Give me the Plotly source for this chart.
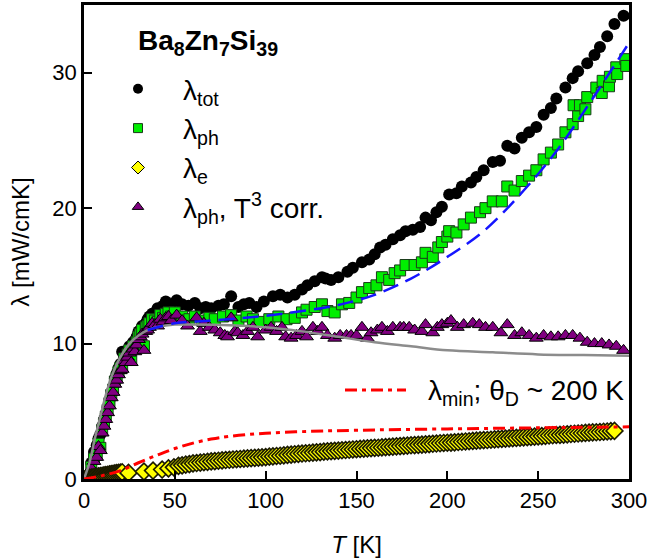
import plotly.graph_objects as go

# ---------------- data ----------------
T_low = [4, 5.5, 7, 8, 9, 10, 11, 12, 13, 14, 15, 16, 17, 18, 19, 20, 21, 22, 23, 24,
         25, 26, 27, 28, 29, 30, 31, 32, 33, 34, 35, 36, 37.5, 39, 40.5, 42, 43.5, 45, 46.5, 48]

T_tot = T_low + [51, 54, 57.5, 61, 64, 67, 70, 74, 77, 81, 85, 88, 91, 95, 99, 104, 108, 112, 116, 120,
                 123, 127, 131, 133, 136, 140, 145, 148, 153, 157, 160, 163, 166, 170, 174, 177, 181, 185, 188, 191,
                 194, 197, 201, 205, 208, 213, 216, 220, 225, 229, 233, 237, 241, 245, 249, 253, 257, 260, 265, 269,
                 272, 277, 281, 284, 288, 292, 297]
lam_tot = [1.2, 2.0, 2.5, 3.0, 3.3, 3.9, 4.4, 4.8, 5.3, 5.8, 6.4, 6.8, 7.4, 7.8, 8.2, 8.5, 9.4, 9.2, 9.3, 9.5,
           9.8, 9.6, 10.1, 10.2, 10.5, 10.9, 11.0, 11.3, 11.1, 11.5, 11.8, 12.0, 12.2, 12.3, 12.6, 12.5, 12.8, 13.1, 12.8, 12.9,
           13.2, 12.9, 12.8, 13.0, 12.6, 12.7, 12.6, 12.8, 12.9, 13.5, 12.7, 12.9, 13.0, 12.7, 13.1, 13.5, 13.6, 13.4, 13.6, 14.0,
           14.3, 14.6, 14.9, 14.8, 14.7, 14.9, 15.3, 15.6, 16.0, 16.2, 16.6, 17.1, 17.3, 17.7, 18.0, 18.3, 18.4, 18.6, 19.3, 19.1,
           19.7, 20.1, 21.0, 21.1, 21.6, 21.9, 22.3, 22.8, 23.4, 23.5, 24.6, 24.4, 25.2, 25.6, 26.0, 26.9, 27.4, 28.1, 28.9, 29.6,
           30.1, 30.7, 31.3, 31.9, 32.7, 33.6, 34.2]

T_ph = T_low + [50, 54, 58, 61, 65, 69, 72, 76.5, 81, 85, 89.5, 93, 96.7, 102, 107, 111.5, 116, 120, 122.5, 127,
                131, 134, 138, 142, 146, 150, 153, 157, 161, 164, 168, 171, 174, 177, 182, 186, 188, 192, 195, 197,
                200, 201, 205, 209, 213, 218, 221, 225, 230, 233, 237, 241, 245, 249, 253, 257, 261, 265, 269, 272,
                269.5, 273, 276, 277, 282, 285, 285.5, 289, 289.5, 293, 293.5, 298, 298.5]
lam_ph = [0.9, 1.5, 1.8, 2.6, 2.3, 3.6, 4.1, 4.6, 5.1, 5.6, 6.2, 6.6, 7.2, 7.5, 7.9, 8.2, 8.3, 8.9, 8.8, 9.2,
          9.5, 8.9, 9.8, 9.7, 10.1, 10.5, 10.7, 11.0, 9.8, 11.2, 11.3, 11.5, 11.8, 11.7, 11.6, 12.1, 11.9, 12.2, 12.3, 12.0,
          12.3, 12.0, 11.8, 12.0, 11.7, 11.9, 11.8, 12.0, 12.1, 11.7, 12.0, 11.8, 11.6, 11.8, 12.0, 11.8, 11.9, 12.3, 12.5, 12.7,
          12.9, 12.4, 12.3, 12.9, 13.0, 13.4, 13.8, 14.1, 14.3, 14.9, 14.7, 15.2, 15.4, 15.8, 15.8, 16.0, 16.7, 16.4, 17.1, 17.5,
          17.9, 18.3, 18.2, 18.8, 19.3, 19.7, 20.0, 20.5, 20.5, 21.6, 21.3, 22.0, 22.4, 22.8, 23.6, 24.1, 24.7, 25.6, 26.2, 26.8,
          27.6, 27.6, 27.3, 28.2, 28.9, 28.5, 29.4, 29.0, 29.7, 30.4, 29.9, 31.0, 30.5]

T_corr = T_low + [51, 54, 57, 62, 64, 66, 69, 72, 75, 77.5, 79, 81, 83, 84.6, 87.5, 90, 93, 95.6, 100, 103,
                  106, 109, 111, 114, 117, 120, 122.5, 126, 128.5, 131, 134, 138, 141, 144.5, 147, 150, 153, 156, 158, 161.5,
                  164, 167, 170, 174, 176, 179, 182, 186, 188, 192, 194.5, 197, 200, 202, 205.5, 209, 214, 217.6, 221, 225,
                  229.5, 233, 237, 241, 245, 249, 253, 257, 261, 265, 269, 273, 277, 281, 285, 289, 293, 297]
lam_corr = [0.8, 1.3, 1.6, 2.4, 2.1, 3.4, 3.9, 4.4, 4.9, 5.4, 6.0, 6.4, 7.0, 7.3, 7.7, 8.0, 8.1, 8.7, 8.6, 9.0,
            9.3, 8.6, 9.6, 9.4, 9.9, 10.3, 10.5, 10.7, 9.5, 10.9, 11.0, 11.2, 11.5, 11.4, 11.3, 11.8, 11.6, 11.9, 12.0, 11.7,
            12.1, 11.7, 11.3, 11.9, 10.9, 11.5, 11.2, 11.0, 10.8, 10.6, 10.5, 11.9, 10.9, 10.8, 10.6, 10.9, 11.2, 10.5, 11.0, 11.2,
            10.9, 11.2, 10.5, 10.4, 10.6, 10.9, 10.5, 11.2, 10.9, 11.2, 10.6, 10.4, 10.6, 10.6, 10.6, 10.6, 11.2, 10.4, 10.8, 11.0,
            11.2, 10.9, 11.2, 11.2, 11.2, 11.2, 11.0, 10.9, 11.4, 10.8, 11.2, 11.4, 11.5, 11.7, 11.2, 11.4, 11.5, 11.4, 11.2, 11.2,
            10.8, 11.4, 10.6, 10.8, 10.6, 10.4, 10.6, 10.5, 10.5, 10.6, 10.6, 10.4, 10.1, 10.0, 10.0, 9.9, 9.8, 9.5]

T_e = [1, 2, 3, 4, 5, 6, 7, 8, 9, 10, 11, 12, 13, 14, 15, 16, 17, 18, 19, 20, 21,
       24.5, 33, 38, 43, 46.5, 49.5,
       52, 54, 56, 58, 60, 62, 64, 66, 68, 70, 72, 74, 76, 78, 80, 82, 84, 86, 88, 90,
       92, 94, 96, 98, 100, 102, 104, 106, 108, 110, 112, 114, 116, 118, 120, 122, 124, 126, 128, 130,
       132, 134, 136, 138, 140, 142, 144, 146, 148, 150, 152, 154, 156, 158, 160, 162, 164, 166, 168, 170,
       172, 174, 176, 178, 180, 182, 184, 186, 188, 190, 192, 194, 196, 198, 200, 202, 204, 206, 208, 210,
       212, 214, 216, 218, 220, 222, 224, 226, 228, 230, 232, 234, 236, 238, 240, 242, 244, 246, 248, 250,
       252, 254, 256, 258, 260, 262, 264, 266, 268, 270, 272, 274, 276, 278, 280, 282, 284, 286, 288, 290, 292]
lam_e = [0.03, 0.05, 0.08, 0.10, 0.12, 0.15, 0.17, 0.20, 0.22, 0.24, 0.27, 0.29, 0.31, 0.34, 0.36, 0.38, 0.41, 0.43, 0.45, 0.47, 0.50,
         0.45, 0.55, 0.62, 0.70, 0.78, 0.86,
         0.97, 1.01, 1.06, 1.10, 1.15, 1.18, 1.21, 1.24, 1.27, 1.30, 1.32, 1.35, 1.37, 1.40, 1.42, 1.44, 1.46, 1.48, 1.50, 1.52,
         1.54, 1.56, 1.58, 1.60, 1.62, 1.65, 1.67, 1.70, 1.72, 1.75, 1.78, 1.80, 1.83, 1.85, 1.88, 1.90, 1.92, 1.95, 1.97, 1.99,
         2.02, 2.04, 2.06, 2.08, 2.10, 2.12, 2.14, 2.16, 2.18, 2.20, 2.22, 2.24, 2.26, 2.28, 2.30, 2.31, 2.33, 2.35, 2.37, 2.39,
         2.41, 2.43, 2.45, 2.47, 2.49, 2.50, 2.52, 2.54, 2.56, 2.58, 2.60, 2.62, 2.64, 2.66, 2.68, 2.69, 2.71, 2.73, 2.75, 2.77,
         2.79, 2.81, 2.83, 2.85, 2.87, 2.88, 2.90, 2.92, 2.94, 2.96, 2.98, 3.00, 3.02, 3.04, 3.06, 3.07, 3.09, 3.11, 3.13, 3.15,
         3.17, 3.19, 3.21, 3.23, 3.25, 3.26, 3.28, 3.30, 3.32, 3.34, 3.36, 3.38, 3.40, 3.42, 3.44, 3.45, 3.47, 3.49, 3.51, 3.53, 3.55]

T_fit = [0, 3, 6, 9, 12, 15, 20, 25, 30, 35, 40, 50, 60, 80, 100, 120, 140, 160, 180, 200, 225, 250, 275, 300]
lam_fit = [0, 1.2, 3.0, 4.6, 6.2, 7.5, 9.0, 10.0, 10.6, 11.0, 11.2, 11.4, 11.4, 11.35, 11.2, 10.9, 10.5, 10.1, 9.8, 9.5, 9.35, 9.2, 9.15, 9.1]

T_fit3 = [35, 50, 70, 100, 120, 140, 160, 180, 200, 220, 240, 260, 280, 300]
lam_fit3 = [11.0, 11.5, 11.7, 12.05, 12.4, 12.85, 13.6, 14.8, 16.4, 18.3, 21.0, 24.2, 28.1, 32.2]

T_min = [0, 10, 20, 30, 40, 50, 60, 70, 80, 100, 125, 150, 200, 250, 300]
lam_min = [0, 0.25, 0.62, 1.2, 1.75, 2.25, 2.65, 2.95, 3.15, 3.38, 3.52, 3.6, 3.7, 3.78, 3.85]

x_ticks = [0, 50, 100, 150, 200, 250, 300]
y_ticks = [0, 10, 20, 30]

FONT = "Liberation Sans, Arial, sans-serif"
RED_DASH = "12px,5px,4px,5px"

# plot-area geometry in pixels
L, R, TOP, BOT = 84, 629, 5, 479
PW, PH = R - L, BOT - TOP


def px_x(p):
    return (p - L) / PW


def px_y(p):
    return 1 - (p - TOP) / PH


fig = go.Figure()

# data markers
fig.add_trace(go.Scatter(x=T_tot, y=lam_tot, mode="markers", showlegend=False,
                         marker=dict(symbol="circle", size=12, color="black", line=dict(width=0))))
fig.add_trace(go.Scatter(x=T_ph, y=lam_ph, mode="markers", showlegend=False,
                         marker=dict(symbol="square", size=11, color="#00ee00", line=dict(width=1, color="#1a3a1a"))))
fig.add_trace(go.Scatter(x=T_corr, y=lam_corr, mode="markers", showlegend=False,
                         marker=dict(symbol="triangle-up", size=12, color="#800080", line=dict(width=1, color="black"))))
fig.add_trace(go.Scatter(x=T_e, y=lam_e, mode="markers", showlegend=False,
                         marker=dict(symbol="diamond", size=13, color="#ffff00", line=dict(width=1.6, color="#1a1a00"))))

# model curves
fig.add_trace(go.Scatter(x=T_fit, y=lam_fit, mode="lines", showlegend=False, line_shape="spline",
                         line=dict(color="#8c8c8c", width=2.5)))
fig.add_trace(go.Scatter(x=T_fit3, y=lam_fit3, mode="lines", showlegend=False, line_shape="spline",
                         line=dict(color="#1515ff", width=2.5, dash="16px,8px")))
fig.add_trace(go.Scatter(x=T_min, y=lam_min, mode="lines", line_shape="spline", showlegend=False,
                         line=dict(color="#ff0000", width=3, dash=RED_DASH)))

# legend entries for markers
leg = [("λ<sub>tot</sub>", dict(symbol="circle", size=10, color="black", line=dict(width=0))),
       ("λ<sub>ph</sub>", dict(symbol="square", size=9, color="#00ee00", line=dict(width=1, color="#1a3a1a"))),
       ("λ<sub>e</sub>", dict(symbol="diamond", size=10, color="#ffff00", line=dict(width=1, color="black"))),
       ("λ<sub>ph</sub>, T<sup>3</sup> corr.", dict(symbol="triangle-up", size=10, color="#800080", line=dict(width=1, color="black")))]
for i, (nm, mk) in enumerate(leg):
    fig.add_trace(go.Scatter(x=[None], y=[None], mode="markers", name=nm, legendgroup=f"g{i}",
                             marker=mk, legend="legend"))

# title of the legend block
fig.add_annotation(text="<b>Ba<sub>8</sub>Zn<sub>7</sub>Si<sub>39</sub></b>", xref="paper", yref="paper",
                   x=px_x(136), y=px_y(42), xanchor="left", yanchor="middle",
                   showarrow=False, font=dict(family=FONT, size=28, color="black"))

# legend for the lambda_min curve
fig.add_shape(type="line", xref="paper", yref="paper", x0=px_x(345), x1=px_x(406), y0=px_y(390), y1=px_y(390),
              line=dict(color="#ff0000", width=3, dash=RED_DASH))
fig.add_annotation(text="λ<sub>min</sub>; θ<sub>D</sub> ~ 200 K", xref="paper", yref="paper",
                   x=px_x(426), y=px_y(392), xanchor="left", yanchor="middle",
                   showarrow=False, font=dict(family=FONT, size=28, color="black"))

fig.update_layout(
    width=649, height=560,
    margin=dict(l=L, r=649 - R, t=TOP, b=560 - BOT),
    paper_bgcolor="white", plot_bgcolor="white",
    font=dict(family=FONT, size=22, color="black"),
    legend=dict(x=px_x(93), y=px_y(64), xanchor="left", yanchor="top",
                bgcolor="rgba(0,0,0,0)", font=dict(family=FONT, size=28),
                itemwidth=80, tracegroupgap=0, traceorder="grouped"),
    xaxis=dict(range=[0, 300], tickvals=x_ticks, ticks="inside", ticklen=8, tickwidth=1.5, tickcolor="black",
               showline=True, linewidth=2.5, linecolor="black", mirror=True, showgrid=False, zeroline=False,
               automargin=False,
               tickfont=dict(size=22), title=dict(text="<i>T</i> [K]", font=dict(size=24), standoff=25)),
    yaxis=dict(range=[0, 35], tickvals=y_ticks, ticks="inside", ticklen=8, tickwidth=1.5, tickcolor="black",
               showline=True, linewidth=2.5, linecolor="black", mirror=True, showgrid=False, zeroline=False,
               automargin=False,
               tickfont=dict(size=22), title=dict(text="λ [mW/cmK]", font=dict(size=24), standoff=16)),
)

fig.write_html("out.html", config={"displayModeBar": False},
               post_script="document.body.style.margin='0px';")
